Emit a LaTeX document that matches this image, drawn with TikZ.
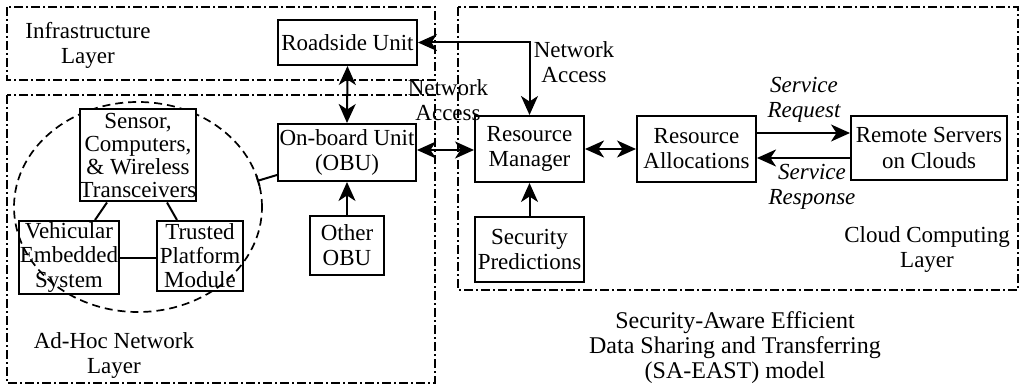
\documentclass[tikz,border=0pt]{standalone}
\usepackage{fontspec}
\setmainfont{Liberation Serif}
\usetikzlibrary{arrows.meta,shapes.geometric}
\begin{document}
\begin{tikzpicture}[x=1pt,y=-1pt,
  font=\fontsize{23}{25}\selectfont,
  box/.style={draw, line width=2pt, align=center, inner sep=0pt},
  lbl/.style={align=center, inner sep=0pt},
  layer/.style={draw, line width=1.6pt, dash pattern=on 9pt off 3pt on 2pt off 3pt},
  conn/.style={line width=2pt},
  dbl/.style={conn, {Stealth[length=19pt, width=17pt, inset=5.5pt]}-{Stealth[length=19pt, width=17pt, inset=5.5pt]}},
  one/.style={conn, -{Stealth[length=19pt, width=17pt, inset=5.5pt]}}]
\useasboundingbox (0,0) rectangle (1024,387);

% layers
\draw[layer] (7,7) rectangle (435,80);
\draw[layer] (7,95) rectangle (435,383);
\draw[layer] (458,7) rectangle (1018,290);

% ellipse
\node[ellipse, draw, line width=1.7pt, dash pattern=on 8pt off 5pt,
      minimum width=248pt, minimum height=210pt, inner sep=0pt] (ell) at (138,207) {};

% boxes
\node[box, minimum width=139pt, minimum height=45pt] (rsu) at (347.5,42.5) {Roadside Unit};
\node[box, minimum width=138pt, minimum height=57pt] (obu) at (347,152.5) {On-board Unit\\(OBU)};
\node[box, minimum width=74pt, minimum height=59pt] (other) at (347,245.5) {Other\\OBU};
\node[box, fill=white, minimum width=110pt, minimum height=92pt, font=\fontsize{23}{23}\selectfont] (sensor) at (138,155.5) {Sensor,\\Computers,\\\& Wireless\\Transceivers};
\node[box, minimum width=100pt, minimum height=73pt, font=\fontsize{23}{24.5}\selectfont] (veh) at (69,257.5) {Vehicular\\Embedded\\System};
\node[box, minimum width=86pt, minimum height=70pt, font=\fontsize{23}{24}\selectfont] (tpm) at (200,256) {Trusted\\Platform\\Module};
\node[box, minimum width=109pt, minimum height=66pt] (rm) at (529.5,149) {Resource\\Manager};
\node[box, minimum width=119pt, minimum height=66pt] (ra) at (696.5,149) {Resource\\Allocations};
\node[box, minimum width=156pt, minimum height=64pt] (rs) at (929,148) {Remote Servers\\on Clouds};
\node[box, minimum width=109pt, minimum height=65pt] (sp) at (529.5,249.5) {Security\\Predictions};

% texts
\node[lbl] (tinfra) at (88,45) {Infrastructure\\Layer};
\node[lbl] (tadhoc) at (114,356) {Ad-Hoc Network\\Layer};
\node[lbl] (tcloud) at (927,250) {Cloud Computing\\Layer};
\node[lbl] (na1) at (574,62) {Network\\Access};
\node[lbl] (na2) at (448,100) {Network\\Access};
\node[lbl, font=\fontsize{23}{25}\selectfont\itshape] (sreq) at (804,100) {Service\\Request};
\node[lbl, font=\fontsize{23}{25}\selectfont\itshape] (sres) at (812,187) {Service\\Response};
\node[lbl, font=\fontsize{24}{25}\selectfont] (cap) at (735,348) {Security-Aware Efficient\\Data Sharing and Transferring\\(SA-EAST) model};

% connectors inside the ellipse
\coordinate (tick) at (257,181);
\draw[conn] ([xshift=-31pt]sensor.south) -- ([xshift=26pt]veh.north);
\draw[conn] ([xshift=29pt]sensor.south) -- ([xshift=-23pt]tpm.north);
\draw[conn] (veh.east) -- (veh.east -| tpm.west);
\draw[conn, {Bar[width=11pt]}-] (tick) -- ([yshift=7pt]obu.south west);

% arrows
\draw[dbl] (rsu.south) -- (obu.north);
\draw[dbl] (rsu.east) -- (rsu.east -| rm.north) -- (rm.north);
\draw[dbl] ([yshift=2.5pt]obu.east) -- ([yshift=-1pt]rm.west);
\draw[dbl] (rm.east) -- (ra.west);
\draw[one] ([yshift=16pt]ra.east) -- ([yshift=15pt]rs.west);
\draw[one] ([yshift=-10pt]rs.west) -- ([yshift=-9pt]ra.east);
\draw[one] (sp.north) -- (rm.south);
\draw[one] (other.north) -- (obu.south);
\end{tikzpicture}
\end{document}
